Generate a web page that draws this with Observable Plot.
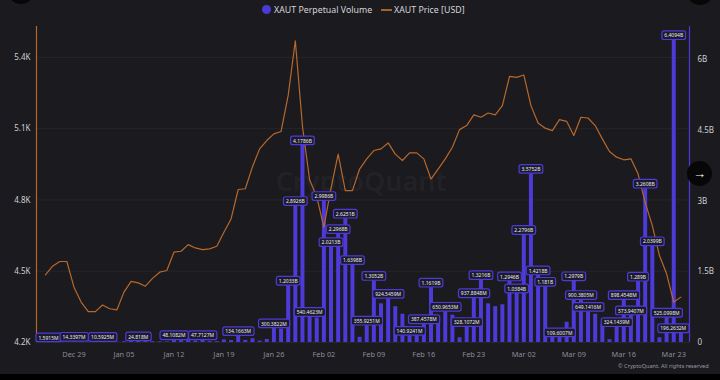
<!DOCTYPE html>
<html><head><meta charset="utf-8">
<script src="https://cdn.jsdelivr.net/npm/d3@7"></script>
<script src="https://cdn.jsdelivr.net/npm/@observablehq/plot@0.6"></script>
<style>
html,body{margin:0;padding:0;background:#1a1a1f;width:720px;height:380px;overflow:hidden;font-family:"Noto Sans","Open Sans",sans-serif;}
#wrap{position:relative;width:720px;height:380px;}
#legend{position:relative;height:20px;font-size:8.8px;color:#d6d6dc;}
#legend .item{position:absolute;top:0;height:20px;line-height:20px;white-space:nowrap;}
#legend .dot{display:inline-block;width:9px;height:9px;border-radius:50%;background:#4a3ad6;vertical-align:middle;margin-right:3px;position:relative;top:-1px;}
#legend .ln{display:inline-block;width:11px;height:2px;background:#a8612a;vertical-align:middle;margin-right:2px;position:relative;top:-1px;}
#chart{position:absolute;left:0;top:20px;}
#caption{position:absolute;left:618px;top:362px;font-size:5.6px;color:#9a9aa2;white-space:nowrap;}
#btn{position:absolute;left:687px;top:161px;width:25px;height:25px;border-radius:50%;background:#070708;color:#fff;font-size:13px;line-height:24px;text-align:center;}
.corner{position:absolute;width:26px;height:26px;border-radius:50%;background:#070708;}
#strip{position:absolute;left:0;top:374px;width:720px;height:6px;background:#000;}
</style></head><body>
<div id="wrap">
  <div id="legend">
    <span class="item" style="left:262px"><span class="dot"></span>XAUT Perpetual Volume</span>
    <span class="item" style="left:381px"><span class="ln"></span>XAUT Price [USD]</span>
  </div>
  <div id="chart"></div>
  <div id="caption">© CryptoQuant. All rights reserved</div>
  <div class="corner" style="left:8px;top:-22px"></div>
  <div class="corner" style="left:687px;top:-21px"></div>
  <div id="btn">→</div>
  <div id="strip"></div>
</div>
<script>
// ---------- data ----------
const startDate = "2025-12-25";
const endDate = "2026-03-25"; // exclusive
const priceUSD = [
  4485,4521,4541,4541,4433,4370,4330,
  4330,4358,4342,4337,4412,4457,4451,4437,4470,4496,4503,4580,4584,4612,4598,4591,4594,4605,4664,4720,4844,4847,4940,5015,5050,5078,5088,5240,5470,5110,4885,
  4814,4685,4850,4993,4839,4839,4930,4973,5008,5015,5040,4993,4966,4998,4998,4973,4888,4930,4973,5022,5096,5113,5158,5148,5166,5158,5197,5320,
  5316,5326,5197,5124,5102,5092,5138,5131,5071,5148,5145,5113,5057,5004,4980,4969,4973,4910,4790,4692,4566,4489,4370,4391
];
const volumeM = [
  1.5915,6,4,5,14.3397,8,7,
  5,10.5925,6,8,16,20,24.818,22,18,14,12,48.1082,38,42,30,47.7127,20,18,55,40,134.1663,45,80,30,65,300.3822,285,1203.3,2892.6,4178.6,540.4623,
  520,2998.6,2021.3,2296.8,2625.1,1639.8,110,355.9251,1305.2,820,924.5459,760,600,140.9241,150,387.4578,1161.9,560,650.9653,580,100,328.1072,937.8848,1321.6,820,760,800,1294.6,
  1038.4,2279.6,3575.2,1421.8,1181,200,109.6007,430,1297.9,900.3805,649.1416,600,380,60,324.1439,898.4548,573.9407,1289,3260.8,2039.9,100,525.0998,6409.4,196.2632
];
const labeledDates = [
  "2025-12-25","2025-12-29","2026-01-02","2026-01-07","2026-01-12","2026-01-16","2026-01-21",
  "2026-01-26","2026-01-28","2026-01-29","2026-01-30","2026-01-31",
  "2026-02-02","2026-02-03","2026-02-04","2026-02-05","2026-02-06","2026-02-08","2026-02-09","2026-02-11",
  "2026-02-14","2026-02-16","2026-02-17","2026-02-19","2026-02-22","2026-02-23","2026-02-24","2026-02-28",
  "2026-03-01","2026-03-02","2026-03-03","2026-03-04","2026-03-05","2026-03-07","2026-03-09","2026-03-10",
  "2026-03-11","2026-03-15","2026-03-16","2026-03-17","2026-03-18","2026-03-19","2026-03-20","2026-03-22",
  "2026-03-23","2026-03-24"
];
const xTickDates = ["2025-12-29","2026-01-05","2026-01-12","2026-01-19","2026-01-26","2026-02-02","2026-02-09","2026-02-16","2026-02-23","2026-03-02","2026-03-09","2026-03-16","2026-03-23"];
const priceTicks = [4200,4500,4800,5100,5400];
const volumeTicksB = [0,1.5,3,4.5,6];
const priceDomain = [4200,5530];
const volumeDomainB = [0,6.7];
const xDomain = [new Date("2025-12-23T18:00:00Z"), new Date("2026-03-25T05:00:00Z")];

// ---------- build ----------
const PURPLE = "#4d3ad8", ORANGE = "#b8682b";
const dates = d3.utcDay.range(new Date(startDate+"T00:00:00Z"), new Date(endDate+"T00:00:00Z"));
const rows = dates.map((d,i)=>({date:d, price:priceUSD[i], volM:volumeM[i], volB:volumeM[i]/1000}));
const labelSet = new Set(labeledDates);
const labeled = rows.filter(r => labelSet.has(d3.utcFormat("%Y-%m-%d")(r.date)));
const priceToY = d3.scaleLinear(priceDomain, volumeDomainB);
const trim = (s) => String(parseFloat(s));
const fmtVol = (m) => m >= 1000 ? trim((m/1000).toFixed(4)) + "B" : trim(m.toFixed(4)) + "M";

const chart = Plot.plot({
  width: 720, height: 354,
  marginTop: 6, marginBottom: 32, marginLeft: 36, marginRight: 31,
  style: {background: "transparent", color: "#cfcfd4", fontFamily: "'Noto Sans','Open Sans',sans-serif", fontSize: "8px", overflow: "visible"},
  x: {type: "utc", domain: xDomain},
  y: {domain: volumeDomainB},
  marks: [
    Plot.gridY(priceTicks.map(p => priceToY(p)), {stroke: "#ffffff", strokeOpacity: 0.05}),
    Plot.text(["CryptoQuant"], {frameAnchor: "middle", dx: -2, dy: -2, text: d => d, fontSize: 27, fontWeight: 600, fill: "#ffffff", fillOpacity: 0.05}),
    Plot.ruleX(rows, {x: "date", y1: 0, y2: "volB", stroke: PURPLE, strokeWidth: 4}),
    Plot.line(rows, {x: "date", y: d => priceToY(d.price), stroke: ORANGE, strokeWidth: 1.2}),
    Plot.ruleX([xDomain[0]], {stroke: ORANGE, strokeWidth: 1.2}),
    Plot.ruleX([xDomain[1]], {stroke: PURPLE, strokeWidth: 1.2}),
    Plot.axisY(priceTicks.map(p => priceToY(p)), {anchor: "left", tickSize: 0, tickPadding: 6, label: null,
      tickFormat: v => (priceToY.invert(v)/1000).toFixed(1) + "K", fill: "#cfcfd4"}),
    Plot.axisY(volumeTicksB, {anchor: "right", tickSize: 0, tickPadding: 8, label: null,
      tickFormat: v => v === 0 ? "0" : v + "B", fill: "#cfcfd4"}),
    Plot.axisX(xTickDates.map(s => new Date(s+"T00:00:00Z")), {tickSize: 0, tickPadding: 9, label: null,
      tickFormat: d3.utcFormat("%b %d"), fill: "#8b8b94", fontSize: 7.4}),
    Plot.text(labeled, {x: "date", y: "volB", text: d => fmtVol(d.volM), dy: -4.4, fontSize: 5, fill: "#ececf2", ariaDescription: "vlabel"})
  ]
});
document.getElementById("chart").appendChild(chart);

// label boxes drawn behind each value label, sized from the rendered text
const NS = "http://www.w3.org/2000/svg";
const svgBox = chart.getBoundingClientRect();
const group = chart.querySelector('g[aria-description="vlabel"]');
if (group) {
  const boxes = document.createElementNS(NS, "g");
  group.parentNode.insertBefore(boxes, group);
  const left = 36, right = 689;
  Array.from(group.querySelectorAll("text")).forEach(t => {
    const r = t.getBoundingClientRect();
    const padX = 2.4, h = 8.6;
    let x0 = r.left - svgBox.left - padX, w = r.width + 2*padX;
    const cy = r.top - svgBox.top + r.height/2;
    let dx = 0;
    if (x0 < left) dx = left - x0; else if (x0 + w > right) dx = right - (x0 + w);
    if (dx) {
      const g = document.createElementNS(NS, "g");
      g.setAttribute("transform", `translate(${dx},0)`);
      t.parentNode.insertBefore(g, t); g.appendChild(t);
    }
    const rect = document.createElementNS(NS, "rect");
    rect.setAttribute("x", x0 + dx); rect.setAttribute("y", cy - h/2 - 0.2);
    rect.setAttribute("width", w); rect.setAttribute("height", h);
    rect.setAttribute("rx", 2); rect.setAttribute("fill", "#1c1b29");
    rect.setAttribute("stroke", PURPLE); rect.setAttribute("stroke-width", 1.2);
    boxes.appendChild(rect);
  });
}
</script>
</body></html>
